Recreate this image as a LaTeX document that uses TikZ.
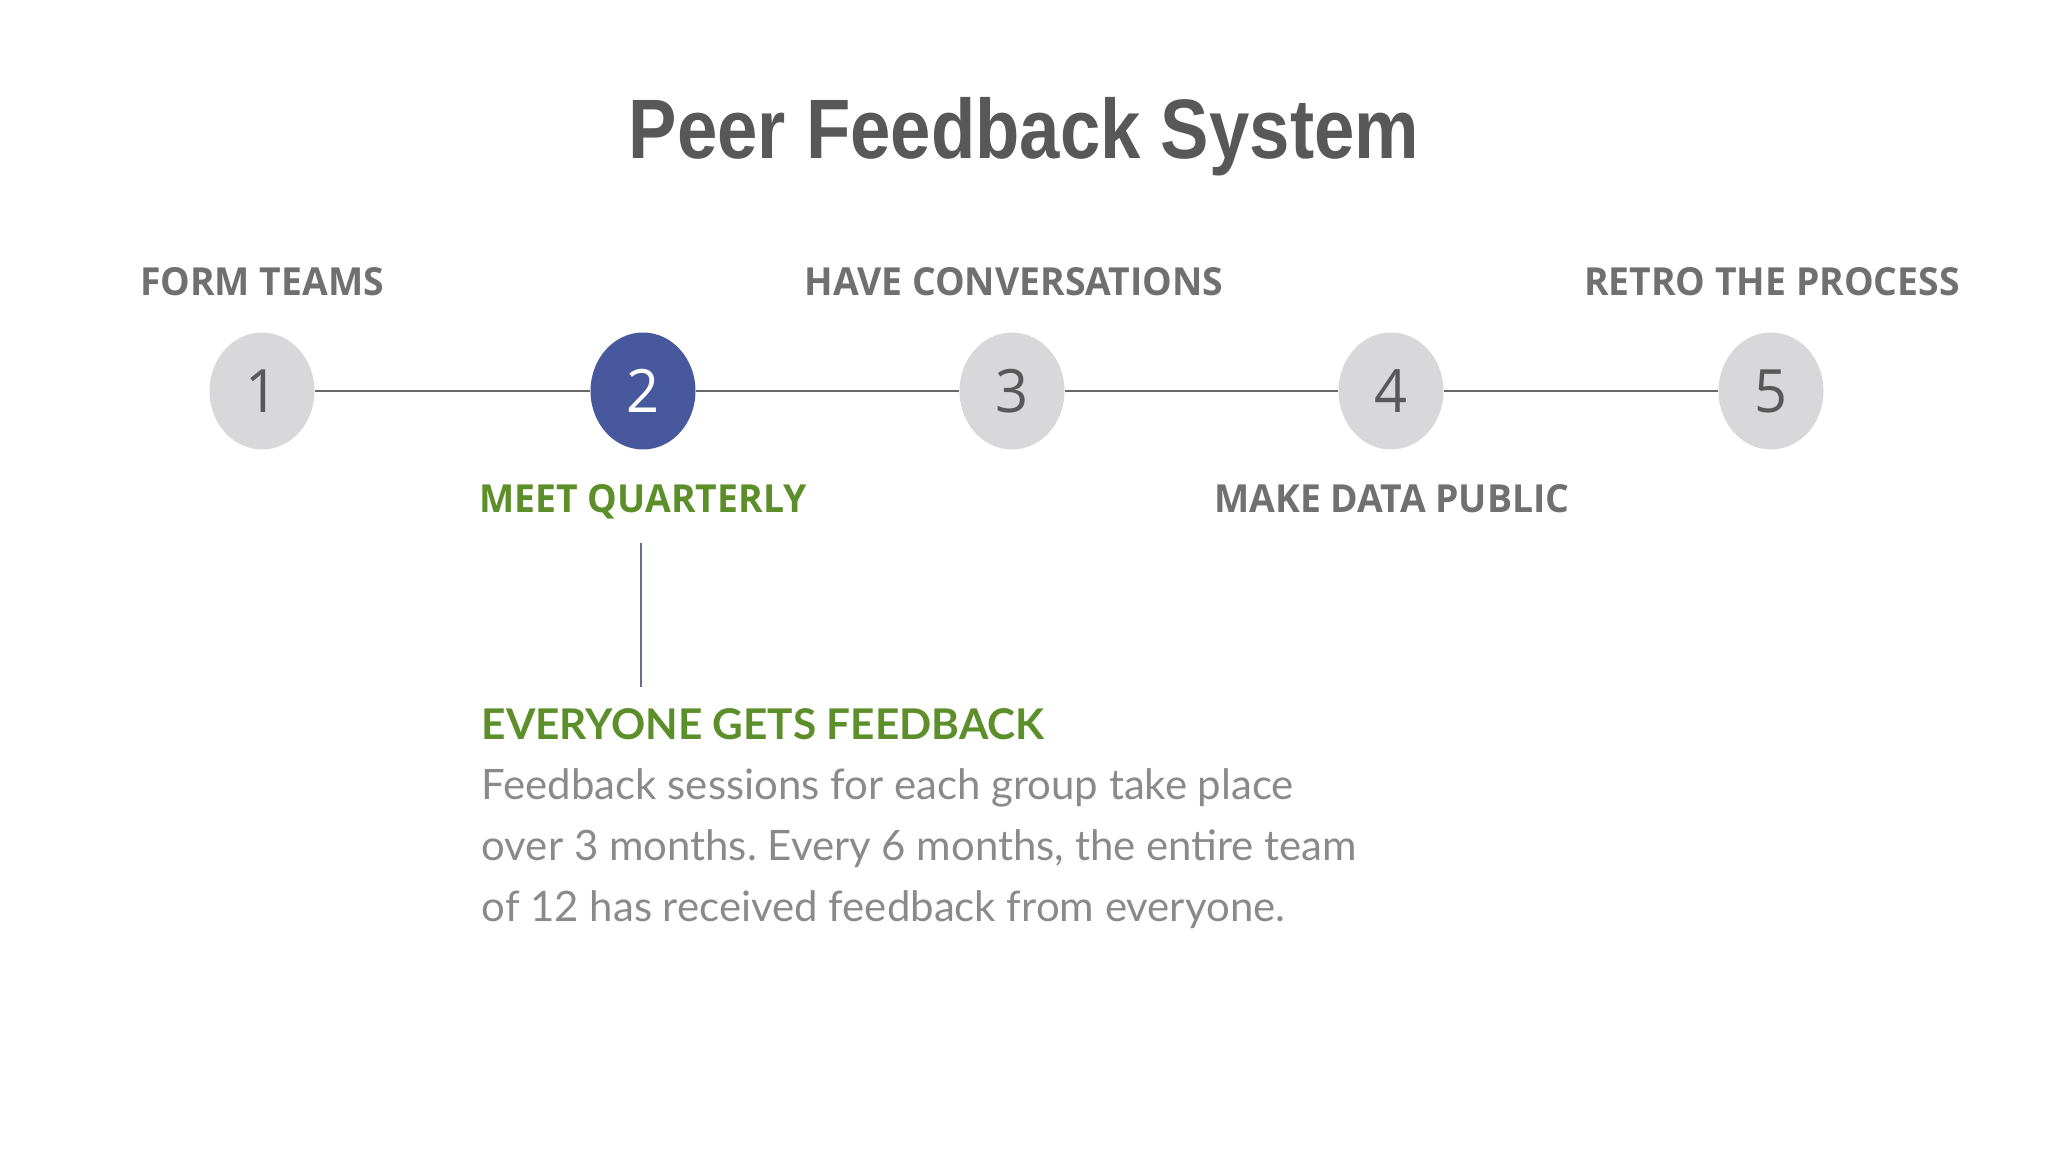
\documentclass[tikz,border=0pt]{standalone}
\usepackage{fontspec}
\setmainfont{Lato}
\newfontfamily\titlefont{Liberation Sans}[FakeStretch=0.86]
\newfontfamily\stepfont{Open Sans}[FakeStretch=0.966]
\usepackage{xcolor}
\usepackage{tikz}
\usetikzlibrary{shapes,positioning,calc}
\definecolor{titlegray}{RGB}{88,88,88}
\definecolor{labelgray}{RGB}{112,112,112}
\definecolor{bodygray}{RGB}{138,138,138}
\definecolor{leafgreen}{RGB}{92,142,42}
\definecolor{stepblue}{RGB}{71,89,156}
\definecolor{dotgray}{RGB}{216,216,218}
\definecolor{linegray}{RGB}{104,104,104}
\definecolor{tickgray}{RGB}{104,108,145}
\frenchspacing

\begin{document}
\begin{tikzpicture}[
    dot/.style={ellipse, fill=dotgray, minimum width=1.05cm, minimum height=1.17cm,
                inner sep=0pt, text=titlegray, font=\stepfont\fontsize{17}{17}\selectfont},
    dotactive/.style={dot, fill=stepblue, text=white},
    steplabel/.style={inner sep=0pt, text=labelgray, font=\stepfont\bfseries\fontsize{11}{13}\selectfont},
    link/.style={draw=linegray, line width=0.6pt}
]
\useasboundingbox (0,0) rectangle (20.48,-11.52);

% title
\node[inner sep=0pt, text=titlegray, font=\titlefont\bfseries\fontsize{24}{28}\selectfont]
    (title) at (10.24,-1.37) {Peer Feedback System};

% steps
\node[dot] (c1) at (2.62,-3.91) {1};
\node[dotactive] (c2) at (6.43,-3.91) {2};
\node[dot] (c3) at (10.12,-3.91) {3};
\node[dot] (c4) at (13.91,-3.91) {4};
\node[dot] (c5) at (17.71,-3.91) {5};

\draw[link] (c1) -- (c2);
\draw[link] (c2) -- (c3);
\draw[link] (c3) -- (c4);
\draw[link] (c4) -- (c5);

% labels
\node[steplabel] (l1) at (2.62,-2.82) {FORM TEAMS};
\node[steplabel] (l3) at (10.14,-2.82) {HAVE CONVERSATIONS};
\node[steplabel] (l5) at (17.72,-2.82) {RETRO THE PROCESS};
\node[steplabel, text=leafgreen] (l2) at (6.43,-5.02) {MEET QUARTERLY};
\node[steplabel] (l4) at (13.92,-4.99) {MAKE DATA PUBLIC};

% detail for step 2
\coordinate (tick top) at (6.41,-5.43);
\coordinate (tick bot) at (6.41,-6.87);
\draw[draw=tickgray, line width=0.6pt] (tick top) -- (tick bot);

\node[anchor=base west, inner sep=0pt, text=leafgreen,
      font=\bfseries\fontsize{12.05}{15}\selectfont] (head) at (4.81,-7.39) {EVERYONE GETS FEEDBACK};
\node[anchor=north west, inner sep=0pt, text=bodygray, align=left,
      font=\fontsize{11.93}{17.4}\selectfont] (body) at (4.81,-7.68)
    {Feedback sessions for each group take place\\
     over 3 months. Every 6 months, the entire team\\
     of 12 has received feedback from everyone.};

\end{tikzpicture}
\end{document}
